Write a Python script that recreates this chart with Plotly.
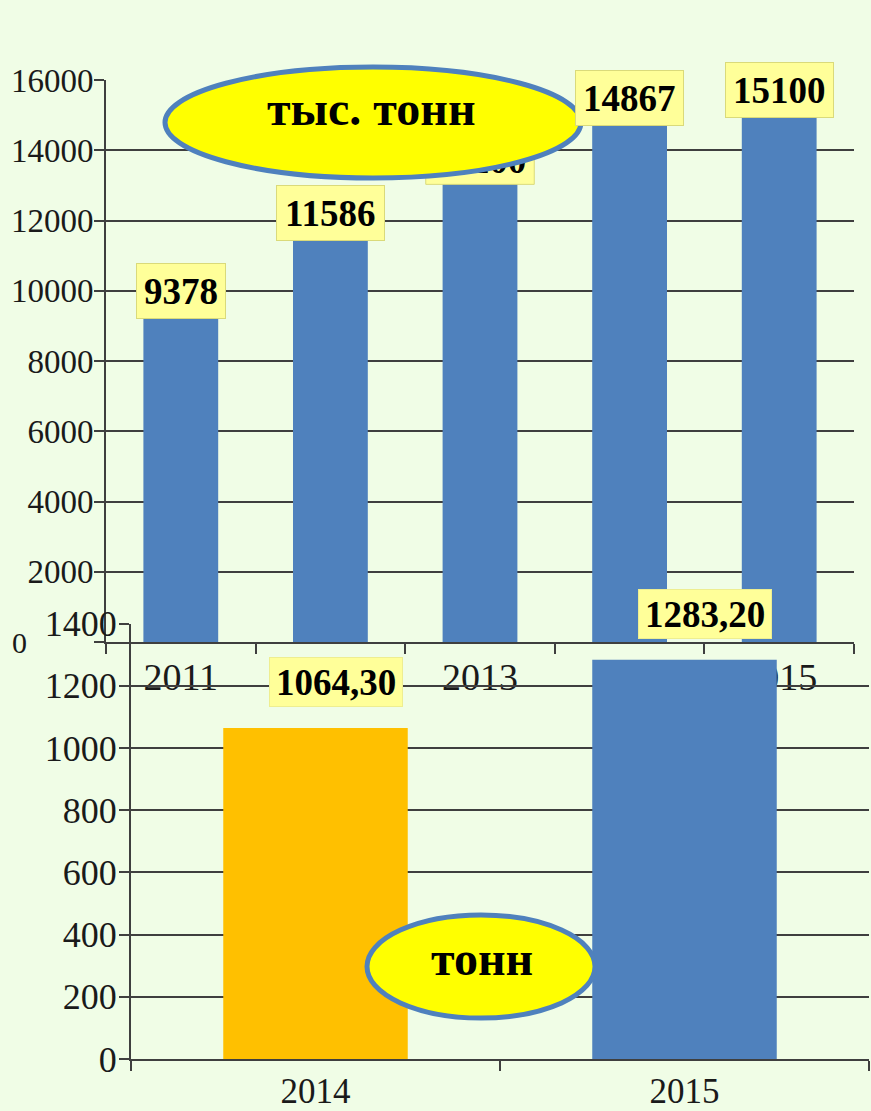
import plotly.graph_objects as go

# ---- data ----
years_top = ["2011", "2012", "2013", "2014", "2015"]
values_top = [9378, 11586, 13200, 14867, 15100]
labels_top = ["9378", "11586", "13200", "14867", "15100"]
yticks_top = [0, 2000, 4000, 6000, 8000, 10000, 12000, 14000, 16000]

years_bottom = ["2014", "2015"]
values_bottom = [1064.30, 1283.20]
labels_bottom = ["1064,30", "1283,20"]
colors_bottom = ["#FFC000", "#4F81BD"]
yticks_bottom = [0, 200, 400, 600, 800, 1000, 1200, 1400]

unit_top = "тыс. тонн"
unit_bottom = "тонн"

# the label of this year is hidden under the unit ellipse in the original
hidden_label_year = "2013"

# ---- style / geometry (pixels) ----
W, H = 871, 1111
BG = "#F0FDE6"
GRID = "#3F3F3F"
BLUE = "#4F81BD"
SERIF = "Liberation Serif"
LABEL_FILL = "#FFFF99"
LABEL_LINE = "#DADA7A"
LABEL_FONT = dict(family=SERIF, size=37, color="black", weight="bold")

TOP_X = (106, 854)
TOP_Y = (642, 80)        # pixel rows of y=0 and y=max
BOT_X = (131, 869)
BOT_Y = (1059, 623.5)
TOP_MAX = 16000
BOT_MAX = 1400


def px(x):
    return x / W


def py(y):
    return (H - y) / H


def box_w(text):
    return 18.5 * len(text) + 16


fig = go.Figure()

fig.add_trace(go.Bar(x=years_top, y=values_top, marker=dict(color=BLUE, line=dict(width=0)),
                     width=0.5, xaxis="x", yaxis="y", hoverinfo="skip"))
fig.add_trace(go.Bar(x=years_bottom, y=values_bottom, marker=dict(color=colors_bottom, line=dict(width=0)),
                     width=0.5, xaxis="x2", yaxis="y2", hoverinfo="skip"))

shapes = []
annotations = []

# top data labels (x given as category index)
top_cat_px = (TOP_X[1] - TOP_X[0]) / len(years_top)
top_upp = TOP_MAX / (TOP_Y[0] - TOP_Y[1])   # data units per pixel
for i, (yr, v, t) in enumerate(zip(years_top, values_top, labels_top)):
    if yr == hidden_label_year:
        # drawn as a shape so that the ellipse (drawn after it) can cover it
        half_w = box_w(t) / 2 / top_cat_px
        shapes.append(dict(
            type="rect", xref="x", yref="y",
            x0=i - half_w, x1=i + half_w, y0=v - 6 * top_upp, y1=v + 50 * top_upp,
            fillcolor=LABEL_FILL, line=dict(color=LABEL_LINE, width=1), layer="above",
            label=dict(text=t, font=LABEL_FONT, textposition="middle center")))
    else:
        annotations.append(dict(
            text=t, xref="x", yref="y", x=i, y=v, showarrow=False,
            xanchor="center", yanchor="bottom", yshift=-6,
            width=box_w(t) - 2, height=54, borderpad=0, borderwidth=1,
            bgcolor=LABEL_FILL, bordercolor=LABEL_LINE, font=LABEL_FONT))

# bottom data labels
for i, (v, t) in enumerate(zip(values_bottom, labels_bottom)):
    annotations.append(dict(
        text=t, xref="x2", yref="y2", x=i, y=v, showarrow=False,
        xanchor="center", yanchor="bottom", xshift=20, yshift=21,
        width=132, height=48, borderpad=0, borderwidth=1,
        bgcolor=LABEL_FILL, bordercolor="#EEEE90", font=LABEL_FONT))

# unit ellipses
shapes.append(dict(
    type="circle", xref="paper", yref="paper",
    x0=px(165), x1=px(581), y0=py(178), y1=py(67),
    fillcolor="#FFFF00", line=dict(color=BLUE, width=5), layer="above"))
shapes.append(dict(
    type="circle", xref="paper", yref="paper",
    x0=px(367), x1=px(595), y0=py(1018), y1=py(915),
    fillcolor="#FFFF00", line=dict(color=BLUE, width=5), layer="above"))
annotations.append(dict(text=unit_top, xref="paper", yref="paper", x=px(371), y=py(108),
                        showarrow=False, xanchor="center", yanchor="middle",
                        font=dict(family=SERIF, size=48, color="black", weight="bold")))
annotations.append(dict(text=unit_bottom, xref="paper", yref="paper", x=px(482), y=py(958),
                        showarrow=False, xanchor="center", yanchor="middle",
                        font=dict(family=SERIF, size=48, color="black", weight="bold")))

# top chart's "0" tick label sits far to the left in the original
annotations.append(dict(text="0", xref="paper", yref="y", x=px(19), y=0, showarrow=False,
                        xanchor="center", yanchor="middle",
                        font=dict(family=SERIF, size=30, color="#1A1A1A")))

axis_common = dict(showline=True, linecolor=GRID, linewidth=2, ticks="outside",
                   tickcolor=GRID, tickwidth=2, ticklen=10, automargin=False)

fig.update_layout(
    width=W, height=H,
    margin=dict(l=0, r=0, t=0, b=0, pad=0),
    paper_bgcolor=BG, plot_bgcolor="rgba(0,0,0,0)",
    showlegend=False,
    shapes=shapes,
    annotations=annotations,
    xaxis=dict(domain=[px(TOP_X[0]), px(TOP_X[1])], anchor="y", type="category", tickson="boundaries",
               range=[-0.5, len(years_top) - 0.5],
               showgrid=False, tickfont=dict(family=SERIF, size=38, color="#1A1A1A"),
               **axis_common),
    yaxis=dict(domain=[py(TOP_Y[0]), py(TOP_Y[1])], anchor="x", range=[0, TOP_MAX],
               tickvals=yticks_top, ticktext=["" if v == 0 else str(v) for v in yticks_top],
               showgrid=True, gridcolor=GRID, gridwidth=2, zeroline=False,
               tickfont=dict(family=SERIF, size=33, color="#1A1A1A"), ticklabelstandoff=-6,
               **axis_common),
    xaxis2=dict(domain=[px(BOT_X[0]), px(BOT_X[1])], anchor="y2", type="category", tickson="boundaries",
                range=[-0.5, len(years_bottom) - 0.5],
                showgrid=False, tickfont=dict(family=SERIF, size=35, color="#1A1A1A"),
                **axis_common),
    yaxis2=dict(domain=[py(BOT_Y[0]), py(BOT_Y[1])], anchor="x2", range=[0, BOT_MAX],
                tickvals=yticks_bottom, ticktext=[str(v) for v in yticks_bottom],
                showgrid=True, gridcolor=GRID, gridwidth=2, zeroline=False,
                tickfont=dict(family=SERIF, size=36, color="#1A1A1A"), ticklabelstandoff=-5,
                **axis_common),
)

fig.write_html("out.html", config={"displayModeBar": False},
               post_script="document.body.style.margin='0';document.body.style.overflow='hidden';")
